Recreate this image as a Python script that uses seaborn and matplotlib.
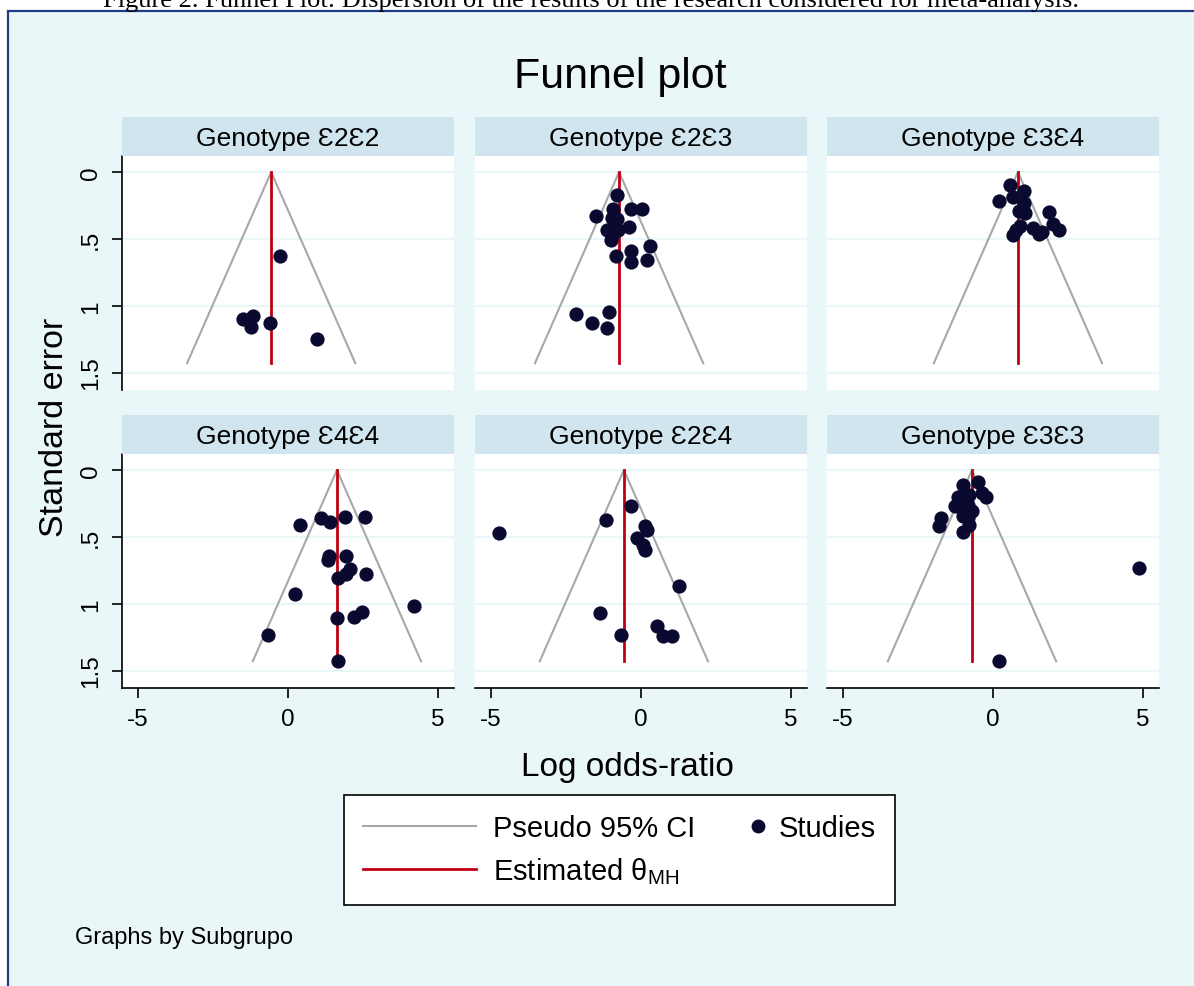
import numpy as np
import pandas as pd
import matplotlib
matplotlib.use("Agg")
import matplotlib.pyplot as plt
import seaborn as sns
from matplotlib.lines import Line2D
from matplotlib.patches import Rectangle
from matplotlib.legend_handler import HandlerLine2D

# ---------------- data ----------------
panels = ["Genotype Ɛ2Ɛ2", "Genotype Ɛ2Ɛ3", "Genotype Ɛ3Ɛ4",
          "Genotype Ɛ4Ɛ4", "Genotype Ɛ2Ɛ4", "Genotype Ɛ3Ɛ3"]

theta_mh = [-0.56, -0.73, 0.83, 1.63, -0.57, -0.70]

lor_e2e2 = [-0.26, -1.51, -1.15, -1.23, -0.61, 0.97]
se_e2e2 = [0.63, 1.10, 1.08, 1.16, 1.13, 1.25]

lor_e2e3 = [-0.79, -1.50, -0.92, -0.34, 0.02, -0.97, -0.81, -0.39, -1.14, -0.97, -0.75,
            -1.01, -0.97, 0.30, -0.34, -0.84, -0.34, 0.19, -2.16, -1.06, -1.64, -1.14]
se_e2e3 = [0.17, 0.33, 0.28, 0.28, 0.28, 0.34, 0.35, 0.41, 0.43, 0.43, 0.43,
           0.51, 0.47, 0.55, 0.59, 0.63, 0.67, 0.66, 1.06, 1.05, 1.13, 1.17]

lor_e3e4 = [0.57, 1.04, 0.19, 0.66, 1.04, 0.88, 1.08, 1.88, 0.90, 1.32, 1.52, 1.63,
            1.99, 2.19, 0.68, 0.77]
se_e3e4 = [0.10, 0.14, 0.22, 0.19, 0.23, 0.29, 0.31, 0.30, 0.40, 0.42, 0.46, 0.45,
           0.39, 0.43, 0.47, 0.43]

lor_e4e4 = [0.39, 1.10, 1.39, 1.89, 2.57, 1.36, 1.34, 1.93, 2.08, 1.93, 1.67, 2.61,
            0.23, 4.19, 1.63, 2.19, 2.47, -0.65, 1.66]
se_e4e4 = [0.41, 0.36, 0.39, 0.35, 0.35, 0.64, 0.67, 0.64, 0.74, 0.78, 0.81, 0.78,
           0.93, 1.02, 1.11, 1.10, 1.06, 1.23, 1.43]

lor_e2e4 = [-4.74, -1.17, -0.34, 0.13, 0.19, -0.14, 0.08, 0.14, 1.28, -1.35, -0.67,
            0.54, 0.74, 1.04]
se_e2e4 = [0.47, 0.37, 0.27, 0.42, 0.45, 0.51, 0.56, 0.60, 0.87, 1.07, 1.23,
           1.17, 1.24, 1.24]

lor_e3e3 = [-1.01, -0.50, -0.23, -0.38, -1.18, -0.96, -0.79, -1.26, -1.01, -0.84, -0.70,
            -1.01, -0.84, -1.73, -1.79, -1.01, -0.79, 4.88, 0.21]
se_e3e3 = [0.11, 0.09, 0.20, 0.17, 0.20, 0.21, 0.19, 0.27, 0.27, 0.26, 0.31,
           0.34, 0.36, 0.36, 0.42, 0.46, 0.41, 0.73, 1.43]

xticks = [-5, 0, 5]
yticks = [0, 0.5, 1, 1.5]
ytick_labels = ["0", ".5", "1", "1.5"]

lors = [lor_e2e2, lor_e2e3, lor_e3e4, lor_e4e4, lor_e2e4, lor_e3e3]
ses = [se_e2e2, se_e2e3, se_e3e4, se_e4e4, se_e2e4, se_e3e3]
df = pd.concat([pd.DataFrame({"panel": p, "lor": l, "se": s})
                for p, l, s in zip(panels, lors, ses)], ignore_index=True)
se_max = df["se"].max()

# ---------------- style ----------------
SANS = ["Liberation Sans", "DejaVu Sans"]
plt.rcParams["font.family"] = SANS
plt.rcParams["mathtext.fontset"] = "custom"
plt.rcParams["mathtext.rm"] = "Liberation Sans"
plt.rcParams["mathtext.it"] = "Liberation Sans:italic"
plt.rcParams["mathtext.bf"] = "Liberation Sans:bold"

BG = "#EAF7F9"
STRIP = "#D0E5EE"
NAVY = "#0A0A30"
RED = "#C00010"
GRAY = "#A8A8A8"
BORDER = "#1F3C88"

W, H = 1194, 987
fig = plt.figure(figsize=(W / 100, H / 100), dpi=100)
fig.patch.set_facecolor("white")


def frect(x, y, w, h):
    return [x / W, 1 - (y + h) / H, w / W, h / H]


bgrect = Rectangle((8 / W, -0.02), 1.0, 1 - 12 / H + 0.02, transform=fig.transFigure,
                   facecolor=BG, edgecolor=BORDER, linewidth=1.6, zorder=-10)
fig.patches.append(bgrect)

fig.text(591 / W, 1 - 7 / H,
         "Figure 2. Funnel Plot: Dispersion of the results of the research considered for meta-analysis.",
         family=["Liberation Serif", "DejaVu Serif"], fontsize=19, ha="center", va="baseline")

col_x = [122, 475, 827]
row_y = [157, 455]
PW, PH = 332, 234

for i, name in enumerate(panels):
    r, c = divmod(i, 3)
    x, y = col_x[c], row_y[r]
    ax = fig.add_axes(frect(x, y, PW, PH))
    ax.set_facecolor("white")
    th = theta_mh[i]
    half = 1.96 * se_max
    ax.plot([th - half, th, th + half], [se_max, 0, se_max], color=GRAY, lw=1.5, zorder=2)
    ax.plot([th, th], [0, se_max], color=RED, lw=2.0, zorder=2.5)
    sns.scatterplot(data=df[df["panel"] == name], x="lor", y="se", ax=ax, color=NAVY,
                    s=105, linewidth=0, zorder=3, legend=False)
    ax.set_xlim(-5.53, 5.53)
    ax.set_ylim(1.63, -0.12)
    ax.set_xticks(xticks)
    ax.set_yticks(yticks)
    ax.set_xlabel("")
    ax.set_ylabel("")
    ax.grid(axis="y", color=BG, lw=1.6)
    ax.grid(axis="x", visible=False)
    ax.set_axisbelow(True)
    for s in ["top", "right"]:
        ax.spines[s].set_visible(False)
    ax.spines["left"].set_visible(c == 0)
    ax.spines["bottom"].set_visible(r == 1)
    for s in ["left", "bottom"]:
        ax.spines[s].set_linewidth(1.2)
    ax.tick_params(axis="both", length=7.5, width=1.2, pad=7, labelsize=17.5, color="black")
    if c == 0:
        ax.set_yticklabels(ytick_labels, rotation=90, va="center")
    else:
        ax.tick_params(axis="y", left=False, labelleft=False)
    if r == 1:
        ax.set_xticklabels([str(t) for t in xticks])
    else:
        ax.tick_params(axis="x", bottom=False, labelbottom=False)

    sax = fig.add_axes(frect(x, y - 39.5, PW, 39.5))
    sax.set_facecolor(STRIP)
    sax.set_xticks([])
    sax.set_yticks([])
    for s in sax.spines.values():
        s.set_visible(False)
    sax.text(0.5, 0.29, name, ha="center", va="baseline", fontsize=19,
             transform=sax.transAxes)

fig.text(620 / W, 1 - 88 / H, "Funnel plot", ha="center", va="baseline", fontsize=31)
fig.text(55 / W, 1 - 427 / H, "Standard error", rotation=90, ha="center", va="center",
         fontsize=24.5)
fig.text(627 / W, 1 - 768 / H, "Log odds-ratio", ha="center", va="center", fontsize=24)
fig.text(75 / W, 1 - 944 / H, "Graphs by Subgrupo", ha="left", va="baseline", fontsize=17)


class HandlerDotRight(HandlerLine2D):
    """Place the single legend marker near the right end of the handle box."""
    def get_xdata(self, legend, xdescent, ydescent, width, height, fontsize):
        xm = -xdescent + width - 0.14 * fontsize
        return np.array([xm - 0.01, xm + 0.01]), np.array([xm])


h_ci = Line2D([], [], color=GRAY, lw=1.5, label="Pseudo 95% CI")
h_est = Line2D([], [], color=RED, lw=2.0, label=r"Estimated $\mathrm{\theta}_{\mathrm{MH}}$")
h_st = Line2D([], [], color=NAVY, marker="o", ls="none", markersize=9, label="Studies")

leg = fig.legend(handles=[h_ci, h_est, h_st], ncol=2, loc="upper left",
                 bbox_to_anchor=(344 / W, 1 - 796 / H), borderaxespad=0,
                 handlelength=3.87, handletextpad=0.58, columnspacing=-1.58,
                 borderpad=0.65, labelspacing=0.44, frameon=True, fancybox=False,
                 edgecolor="black", facecolor="white", framealpha=1, fontsize=21,
                 handler_map={h_st: HandlerDotRight(numpoints=1)})
leg.get_frame().set_linewidth(1.2)

fig.savefig("out.png", dpi=100, facecolor=fig.get_facecolor())
